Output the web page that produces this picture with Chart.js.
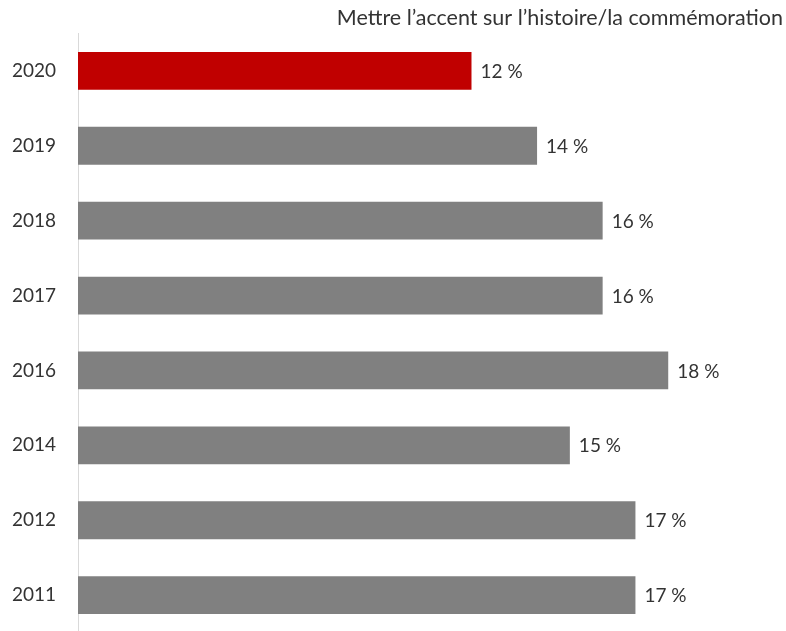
<!DOCTYPE html>
<html>
<head>
<meta charset="utf-8">
<script src="https://cdn.jsdelivr.net/npm/chart.js@4/dist/chart.umd.min.js"></script>
<style>
  html, body { margin: 0; padding: 0; background: #fff; overflow: hidden; }
  #wrap { width: 786px; height: 666px; }
</style>
</head>
<body>
<div id="wrap"><canvas id="chart" width="786" height="666"></canvas></div>
<script>
const title = 'Mettre l\u2019accent sur l\u2019histoire/la commémoration';
const years = ['2020', '2019', '2018', '2017', '2016', '2014', '2012', '2011'];
const values = [12, 14, 16, 16, 18, 15, 17, 17];
const highlightYear = '2020';

const FONT = 'Lato, "Open Sans", sans-serif';
const TEXT = '#333333';

// value labels at the end of each bar
const valueLabels = {
    id: 'valueLabels',
    afterDatasetsDraw(chart) {
        const ctx = chart.ctx;
        const meta = chart.getDatasetMeta(0);
        ctx.save();
        ctx.font = '19px ' + FONT;
        ctx.fillStyle = TEXT;
        ctx.textAlign = 'left';
        ctx.textBaseline = 'middle';
        meta.data.forEach((bar, i) => {
            ctx.fillText(values[i] + ' %', bar.x + 9, bar.y + 1);
        });
        ctx.restore();
    }
};

new Chart(document.getElementById('chart'), {
    type: 'bar',
    data: {
        labels: years,
        datasets: [{
            data: values,
            backgroundColor: years.map(y => y === highlightYear ? '#c00000' : '#808080'),
            borderWidth: 0,
            categoryPercentage: 1,
            barPercentage: 0.505
        }]
    },
    options: {
        indexAxis: 'y',
        responsive: false,
        animation: false,
        layout: {
            padding: { left: 0, right: 3, top: 0, bottom: 5 }
        },
        plugins: {
            legend: { display: false },
            tooltip: { enabled: false },
            title: {
                display: true,
                text: title,
                align: 'end',
                color: TEXT,
                font: { family: FONT, size: 21.5, weight: 'normal', lineHeight: 1.2 },
                padding: { top: 4, bottom: 2.5 }
            }
        },
        scales: {
            x: {
                display: false,
                min: 0,
                max: 21.5
            },
            y: {
                grid: { display: false, drawTicks: false },
                border: { display: true, color: '#d9d9d9', width: 1 },
                ticks: {
                    color: TEXT,
                    font: { family: FONT, size: 19 },
                    padding: 22
                },
                afterFit(scale) { scale.width = 78; }
            }
        }
    },
    plugins: [valueLabels]
});
</script>
</body>
</html>
